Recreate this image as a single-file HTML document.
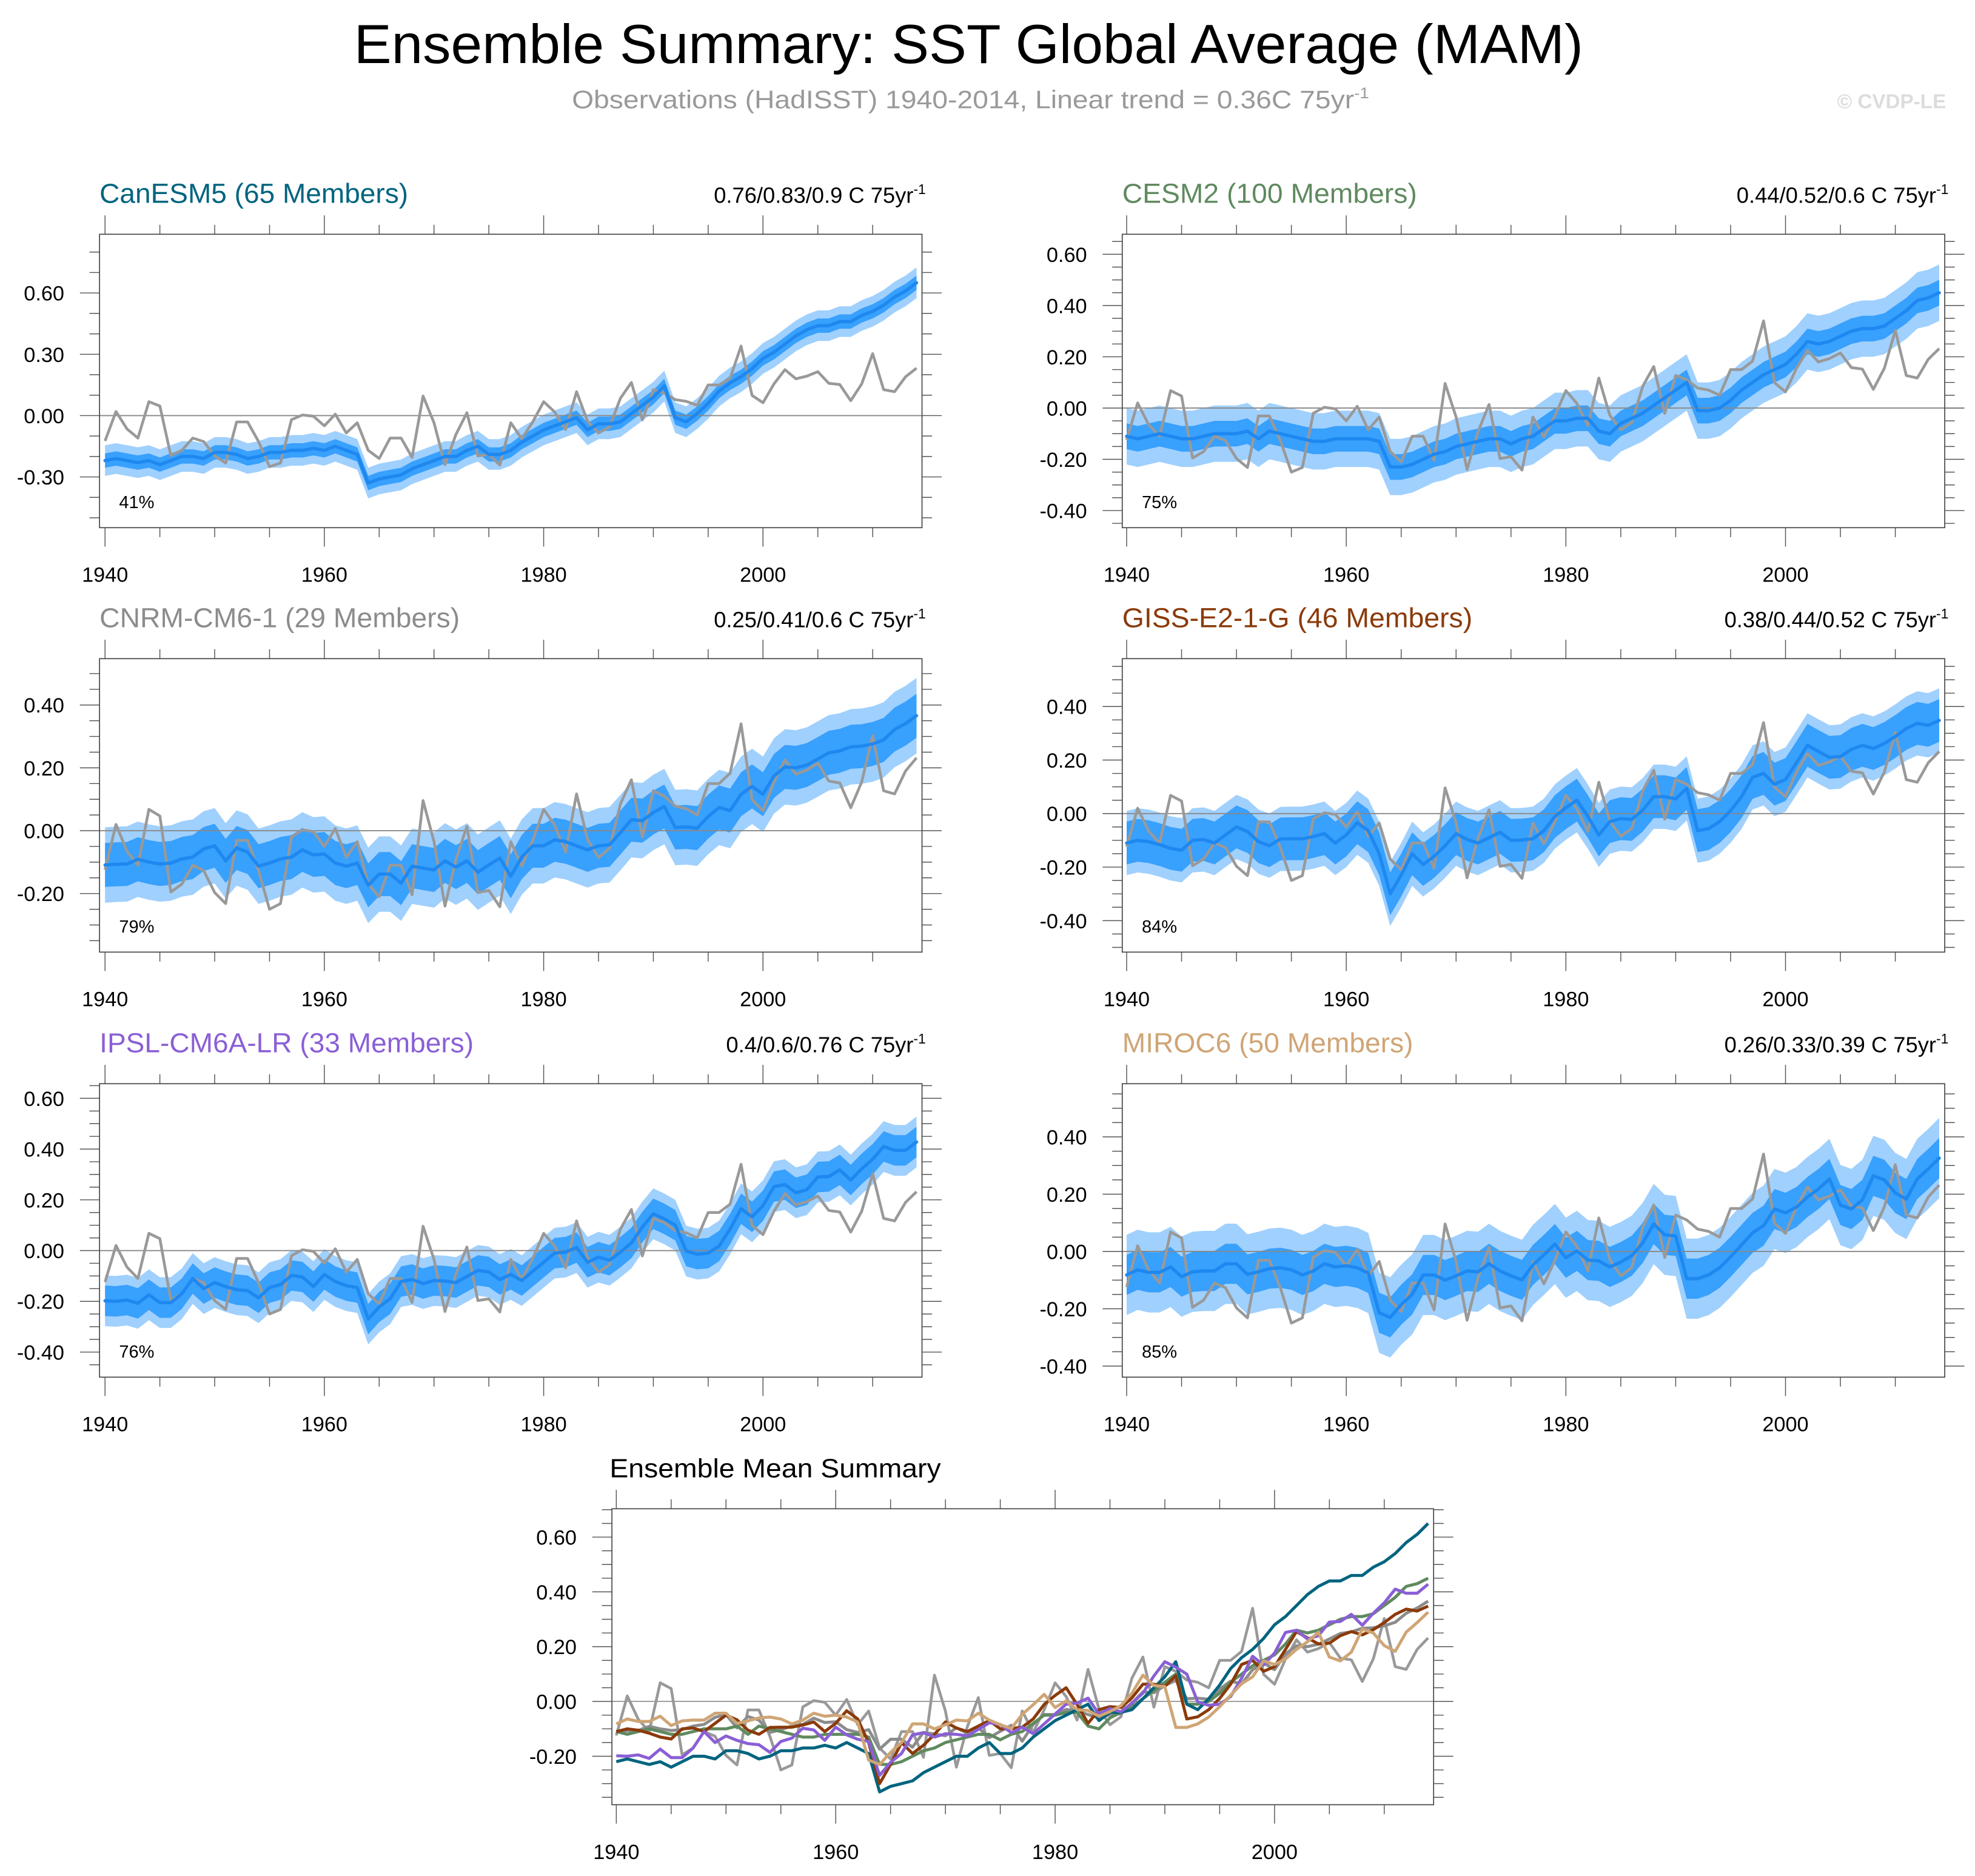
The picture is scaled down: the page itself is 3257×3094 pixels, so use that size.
<!DOCTYPE html>
<html><head><meta charset="utf-8"><style>
html,body{margin:0;padding:0;background:#fff;}
svg{display:block;font-family:"Liberation Sans",sans-serif;}
</style></head>
<body>
<svg id="chart" xmlns="http://www.w3.org/2000/svg" width="3257" height="3094" viewBox="0 0 1568 1489.6">
<rect x="0" y="0" width="1568" height="1489.6" fill="#fff"/>
<text x="769" y="50" text-anchor="middle" font-size="44" textLength="976" lengthAdjust="spacingAndGlyphs" fill="#000">Ensemble Summary: SST Global Average (MAM)</text>
<text x="454" y="86" font-size="20" fill="#999" textLength="633" lengthAdjust="spacingAndGlyphs">Observations (HadISST) 1940-2014, Linear trend = 0.36C 75yr<tspan dy="-8" font-size="12">-1</tspan></text>
<text x="1545" y="86" text-anchor="end" font-size="16" font-weight="bold" fill="#dcdcdc">© CVDP-LE</text>
<text x="484" y="1173" font-size="21" textLength="263" lengthAdjust="spacingAndGlyphs" fill="#000">Ensemble Mean Summary</text>
</svg>
<script>
const startYear = 1940;
const years = [];
for (let i = 0; i < 75; i++) years.push(startYear + i);

const obs = [-0.124,0.02,-0.065,-0.11,0.068,0.047,-0.195,-0.17,-0.11,-0.127,
-0.197,-0.232,-0.031,-0.031,-0.127,-0.25,-0.232,-0.02,0.003,-0.003,
-0.05,0.007,-0.085,-0.035,-0.17,-0.21,-0.11,-0.11,-0.204,0.096,
-0.035,-0.24,-0.092,0.014,-0.197,-0.19,-0.242,-0.035,-0.113,-0.031,
0.068,0.018,-0.068,0.117,-0.028,-0.085,-0.056,0.085,0.162,-0.021,
0.127,0.11,0.078,0.07,0.05,0.15,0.15,0.183,0.34,0.099,
0.063,0.155,0.225,0.18,0.193,0.215,0.158,0.152,0.073,0.155,
0.303,0.127,0.117,0.19,0.232];

const canesm5Mean = [-0.22,-0.21,-0.22,-0.23,-0.22,-0.24,-0.22,-0.20,-0.20,-0.21,
-0.18,-0.18,-0.19,-0.21,-0.20,-0.18,-0.18,-0.17,-0.17,-0.16,
-0.17,-0.15,-0.17,-0.19,-0.33,-0.31,-0.30,-0.29,-0.26,-0.24,
-0.22,-0.20,-0.20,-0.17,-0.15,-0.19,-0.19,-0.17,-0.13,-0.10,
-0.07,-0.05,-0.03,-0.01,-0.07,-0.04,-0.04,-0.03,0.01,0.05,
0.09,0.145,-0.01,-0.03,0.01,0.06,0.12,0.16,0.19,0.23,
0.28,0.31,0.35,0.39,0.42,0.44,0.44,0.46,0.46,0.49,
0.51,0.54,0.58,0.61,0.65];

const cesm2Mean = [-0.11,-0.12,-0.11,-0.10,-0.11,-0.12,-0.12,-0.11,-0.10,-0.10,
-0.10,-0.09,-0.12,-0.09,-0.10,-0.11,-0.12,-0.13,-0.13,-0.12,
-0.12,-0.12,-0.12,-0.13,-0.23,-0.23,-0.22,-0.20,-0.18,-0.17,
-0.15,-0.14,-0.13,-0.12,-0.12,-0.14,-0.12,-0.11,-0.08,-0.05,
-0.05,-0.04,-0.04,-0.09,-0.10,-0.06,-0.04,-0.02,0.01,0.04,
0.07,0.10,-0.01,-0.01,0.00,0.03,0.07,0.10,0.13,0.15,
0.17,0.21,0.26,0.25,0.26,0.28,0.30,0.31,0.31,0.32,
0.35,0.38,0.42,0.43,0.45];

const cnrmMean = [-0.109,-0.107,-0.106,-0.091,-0.10,-0.106,-0.103,-0.09,-0.084,-0.058,
-0.048,-0.096,-0.055,-0.068,-0.113,-0.103,-0.09,-0.084,-0.061,-0.077,
-0.074,-0.103,-0.113,-0.103,-0.174,-0.138,-0.138,-0.167,-0.113,-0.119,
-0.125,-0.096,-0.116,-0.096,-0.132,-0.109,-0.087,-0.145,-0.084,-0.048,
-0.048,-0.029,-0.035,-0.048,-0.061,-0.048,-0.045,-0.006,0.035,0.032,
0.058,0.077,0.01,0.012,0.008,0.045,0.074,0.064,0.116,0.141,
0.116,0.174,0.203,0.20,0.209,0.228,0.248,0.254,0.267,0.269,
0.276,0.289,0.322,0.341,0.366];

const gissMean = [-0.11,-0.10,-0.105,-0.116,-0.13,-0.137,-0.10,-0.097,-0.11,-0.08,
-0.05,-0.067,-0.105,-0.12,-0.095,-0.094,-0.094,-0.086,-0.075,-0.11,
-0.08,-0.034,-0.064,-0.15,-0.30,-0.23,-0.15,-0.19,-0.16,-0.12,
-0.075,-0.097,-0.11,-0.09,-0.07,-0.10,-0.099,-0.094,-0.064,-0.011,
0.022,0.05,-0.011,-0.08,-0.03,-0.019,-0.022,0.013,0.063,0.063,
0.055,0.094,-0.064,-0.056,-0.03,0.011,0.063,0.135,0.15,0.11,
0.127,0.19,0.255,0.232,0.21,0.213,0.24,0.255,0.243,0.262,
0.288,0.318,0.337,0.33,0.348];

const ipslMean = [-0.198,-0.20,-0.195,-0.208,-0.174,-0.205,-0.205,-0.17,-0.11,-0.15,
-0.126,-0.142,-0.154,-0.158,-0.186,-0.146,-0.134,-0.098,-0.104,-0.142,
-0.094,-0.122,-0.138,-0.146,-0.27,-0.222,-0.19,-0.122,-0.114,-0.13,
-0.118,-0.12,-0.126,-0.102,-0.078,-0.084,-0.114,-0.094,-0.118,-0.082,
-0.046,-0.01,-0.006,0.012,-0.046,-0.026,-0.038,-0.006,0.03,0.093,
0.145,0.125,0.10,-0.002,-0.014,-0.01,0.018,0.085,0.165,0.133,
0.177,0.252,0.26,0.228,0.24,0.29,0.292,0.318,0.278,0.322,
0.36,0.41,0.395,0.395,0.428];

const mirocMean = [-0.082,-0.064,-0.073,-0.073,-0.054,-0.088,-0.071,-0.068,-0.068,-0.043,
-0.043,-0.08,-0.071,-0.06,-0.057,-0.064,-0.082,-0.068,-0.043,-0.054,
-0.05,-0.057,-0.075,-0.214,-0.23,-0.186,-0.15,-0.082,-0.082,-0.10,
-0.085,-0.068,-0.071,-0.043,-0.068,-0.085,-0.099,-0.047,-0.012,0.026,
-0.022,0.002,-0.03,-0.033,-0.054,-0.037,-0.015,0.03,0.096,0.058,
0.054,-0.095,-0.095,-0.082,-0.057,-0.019,0.023,0.065,0.09,0.148,
0.135,0.155,0.19,0.218,0.253,0.162,0.148,0.18,0.264,0.25,
0.204,0.183,0.253,0.288,0.326];

const modelNames = ["CanESM5 (65 Members)","CESM2 (100 Members)","CNRM-CM6-1 (29 Members)","GISS-E2-1-G (46 Members)","IPSL-CM6A-LR (33 Members)","MIROC6 (50 Members)"];
const trendLabels = ["0.76/0.83/0.9 C 75yr","0.44/0.52/0.6 C 75yr","0.25/0.41/0.6 C 75yr","0.38/0.44/0.52 C 75yr","0.4/0.6/0.76 C 75yr","0.26/0.33/0.39 C 75yr"];
const pctLabels = ["41%","75%","79%","84%","76%","85%"];
const innerSpread = [0.035,0.05,0.07,0.08,0.06,0.07];
const outerSpread = [0.075,0.11,0.12,0.12,0.10,0.14];
const xTickLabels = [1940,1960,1980,2000];

const modelMeans = [canesm5Mean,cesm2Mean,cnrmMean,gissMean,ipslMean,mirocMean];
const modelColors = ["#00647f","#5f8a5f","#8c8c8c","#8b3a0a","#8a5fd6","#cfa575"];
const keys = ["canesm5","cesm2","cnrm-cm6-1","giss-e2-1-g","ipsl-cm6a-lr","miroc6"];

const layouts = [
 {x0:79,x1:732,y0:186,y1:419,zero:330,ppu:162.3,yt:[-0.3,0,0.3,0.6],minor:0.1,d0:1939.5,d1:2014.5},
 {x0:891,x1:1544,y0:186,y1:419,zero:324,ppu:203.5,yt:[-0.4,-0.2,0,0.2,0.4,0.6],minor:0.05,d0:1939.6,d1:2014.5},
 {x0:79,x1:732,y0:523,y1:756,zero:659.6,ppu:249.5,yt:[-0.2,0,0.2,0.4],minor:0.05,d0:1939.5,d1:2014.5},
 {x0:891,x1:1544,y0:523,y1:756,zero:646,ppu:212.5,yt:[-0.4,-0.2,0,0.2,0.4],minor:0.05,d0:1939.6,d1:2014.5},
 {x0:79,x1:732,y0:860.5,y1:1093.5,zero:993,ppu:201.5,yt:[-0.4,-0.2,0,0.2,0.4,0.6],minor:0.05,d0:1939.5,d1:2014.5},
 {x0:891,x1:1544,y0:860.5,y1:1093.5,zero:993.7,ppu:227.5,yt:[-0.4,-0.2,0,0.2,0.4],minor:0.05,d0:1939.6,d1:2014.5}
];
const bottomLayout = {x0:485.8,x1:1138.2,y0:1198,y1:1433,zero:1351,ppu:217.5,yt:[-0.2,0,0.2,0.4,0.6],minor:0.05,d0:1939.6,d1:2014.5};
const titleLengths = [245,234,286,278,297,231];

const NS = "http://www.w3.org/2000/svg";
const svg = document.getElementById("chart");
function mk(parent, tag, attrs){
  const e = document.createElementNS(NS, tag);
  for (const k in attrs) e.setAttribute(k, attrs[k]);
  parent.appendChild(e);
  return e;
}

function drawAxes(g, L){
  const xs = y => L.x0 + (y - L.d0) / (L.d1 - L.d0) * (L.x1 - L.x0);
  const ys = v => L.zero - v * L.ppu;
  for (let yr = 1940; yr <= 2014; yr += 5){
    const major = (yr % 20 === 0);
    const len = major ? 15 : 7.5;
    const x = xs(yr);
    const t1 = mk(g, "line", {x1:x,x2:x,y1:L.y0,y2:L.y0-len,stroke:"#555","stroke-width":0.7});
    
    
    const t2 = mk(g, "line", {x1:x,x2:x,y1:L.y1,y2:L.y1+len,stroke:"#555","stroke-width":0.7});
    
    
  }
  xTickLabels.forEach(yr => {
    const t = mk(g, "text", {x:xs(yr),y:L.y1+43,"text-anchor":"middle","font-size":16.5,fill:"#000"});
    t.textContent = String(yr);
    
    
  });
  const vTop = (L.zero - L.y0) / L.ppu, vBot = (L.zero - L.y1) / L.ppu;
  const n0 = Math.ceil(vBot / L.minor - 1e-6), n1 = Math.floor(vTop / L.minor + 1e-6);
  for (let n = n0; n <= n1; n++){
    const v = n * L.minor;
    const isMajor = L.yt.some(t => Math.abs(t - v) < 1e-6);
    const len = isMajor ? 15.6 : 8;
    const y = ys(v);
    const a = mk(g, "line", {x1:L.x0,x2:L.x0-len,y1:y,y2:y,stroke:"#555","stroke-width":0.7});
    
    
    const b = mk(g, "line", {x1:L.x1,x2:L.x1+len,y1:y,y2:y,stroke:"#555","stroke-width":0.7});
    
    
  }
  L.yt.forEach(v => {
    const t = mk(g, "text", {x:L.x0-28,y:ys(v)+6,"text-anchor":"end","font-size":16.5,fill:"#000"});
    t.textContent = v.toFixed(2);
    
    
  });
  return {xs, ys};
}

function pathFrom(vals, xs, ys){
  return vals.map((v,i) => (i ? "L" : "M") + xs(years[i]).toFixed(2) + "," + ys(v).toFixed(2)).join(" ");
}
function bandFrom(vals, s, xs, ys){
  const up = vals.map((v,i) => xs(years[i]).toFixed(2) + "," + ys(v + s).toFixed(2));
  const lo = vals.map((v,i) => xs(years[i]).toFixed(2) + "," + ys(v - s).toFixed(2)).reverse();
  return up.concat(lo).join(" ");
}

layouts.forEach((L, m) => {
  const g = mk(svg, "g", {});
  
  
  const {xs, ys} = drawAxes(g, L);
  const outer = mk(g, "polygon", {points:bandFrom(modelMeans[m], outerSpread[m], xs, ys), fill:"#a0d0fd"});
  
  
  const inner = mk(g, "polygon", {points:bandFrom(modelMeans[m], innerSpread[m], xs, ys), fill:"#38a0fd"});
  
  
  const z = mk(g, "line", {x1:L.x0,x2:L.x1,y1:ys(0),y2:ys(0),stroke:"#888","stroke-width":0.9});
  
  
  const ob = mk(g, "path", {d:pathFrom(obs, xs, ys), fill:"none", stroke:"#999", "stroke-width":2.2, "stroke-linejoin":"round"});
  
  
  const mn = mk(g, "path", {d:pathFrom(modelMeans[m], xs, ys), fill:"none", stroke:"#1e88f0", "stroke-width":2.6, "stroke-linejoin":"round", "stroke-linecap":"round"});
  
  
  const box = mk(g, "rect", {x:L.x0,y:L.y0,width:L.x1-L.x0,height:L.y1-L.y0,fill:"none",stroke:"#444","stroke-width":0.8});
  
  
  const title = mk(g, "text", {x:L.x0, y:L.y0-25, "font-size":22, fill:modelColors[m], textLength:titleLengths[m], lengthAdjust:"spacingAndGlyphs"});
  title.textContent = modelNames[m];
  
  
  const st = mk(g, "text", {x:L.x1+3, y:L.y0-25, "text-anchor":"end", "font-size":17.5, fill:"#000"});
  st.textContent = trendLabels[m];
  const sup = mk(st, "tspan", {dy:-7, "font-size":11});
  sup.textContent = "-1";
  
  
  const pc = mk(g, "text", {x:L.x0+15.5, y:L.y1-15.5, "font-size":14, fill:"#000"});
  pc.textContent = pctLabels[m];
  
  
});

(function(){
  const L = bottomLayout;
  const g = mk(svg, "g", {});
  
  
  const {xs, ys} = drawAxes(g, L);
  const z = mk(g, "line", {x1:L.x0,x2:L.x1,y1:ys(0),y2:ys(0),stroke:"#999","stroke-width":0.9});
  
  
  const ob = mk(g, "path", {d:pathFrom(obs, xs, ys), fill:"none", stroke:"#999", "stroke-width":2.2, "stroke-linejoin":"round"});
  
  
  const order = [2,1,0,3,4,5];
  order.forEach(m => {
    const p = mk(g, "path", {d:pathFrom(modelMeans[m], xs, ys), fill:"none", stroke:modelColors[m], "stroke-width":2.4, "stroke-linejoin":"round"});
    
    
  });
  const box = mk(g, "rect", {x:L.x0,y:L.y0,width:L.x1-L.x0,height:L.y1-L.y0,fill:"none",stroke:"#444","stroke-width":0.8});
  
  
})();
</script>
</body></html>
